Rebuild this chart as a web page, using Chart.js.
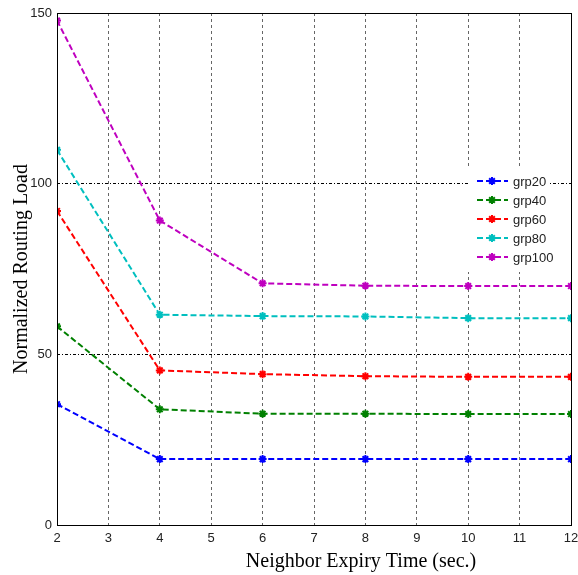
<!DOCTYPE html>
<html>
<head>
<meta charset="utf-8">
<script src="https://cdn.jsdelivr.net/npm/chart.js@4.4.0/dist/chart.umd.min.js"></script>
<style>
  html, body { margin: 0; padding: 0; background: #fff; }
  #wrap { width: 578px; height: 575px; }
</style>
</head>
<body>
<div id="wrap"><canvas id="routingChart" width="578" height="575"></canvas></div>
<script>
// expiry times on x, routing load per group
const expiryTimes = [2, 4, 6, 8, 10, 12];
const grp20 = [35.4, 19.3, 19.3, 19.3, 19.3, 19.3];
const grp40 = [58.2, 33.9, 32.6, 32.6, 32.5, 32.5];
const grp60 = [92.0, 45.3, 44.2, 43.6, 43.4, 43.4];
const grp80 = [109.9, 61.6, 61.2, 61.1, 60.6, 60.6];
const grp100 = [147.8, 89.2, 70.8, 70.1, 70.0, 70.0];
const groupNames = ['grp20', 'grp40', 'grp60', 'grp80', 'grp100'];
const groupColors = ['#0000ff', '#008000', '#ff0000', '#00bfbf', '#bf00bf'];
const yTicks = [0, 50, 100, 150];

const tickFont = "'Liberation Sans Narrow', 'Liberation Sans', Arial, sans-serif";

function toPoints(values) {
    return values.map((v, i) => ({ x: expiryTimes[i], y: v }));
}

const seriesList = [grp20, grp40, grp60, grp80, grp100];
const datasets = seriesList.map((s, i) => ({
    label: groupNames[i],
    data: toPoints(s),
    borderColor: groupColors[i],
    backgroundColor: groupColors[i],
    borderWidth: 2,
    borderDash: [6, 3],
    pointStyle: 'star',
    pointRadius: 4,
    pointBorderWidth: 2,
    tension: 0
}));

// box, axis titles and legend drawn like the matlab figure
const figurePlugin = {
    id: 'figurePlugin',
    afterDraw(chart) {
        const ctx = chart.ctx;
        const a = chart.chartArea;
        ctx.save();
        // frame
        ctx.strokeStyle = '#000';
        ctx.lineWidth = 1;
        ctx.setLineDash([]);
        ctx.strokeRect(a.left + 0.5, a.top + 0.5, a.right - a.left, a.bottom - a.top);

        // axis titles
        ctx.fillStyle = '#000';
        ctx.font = "20px 'Liberation Serif', 'Times New Roman', serif";
        ctx.textAlign = 'center';
        ctx.textBaseline = 'middle';
        ctx.fillText('Neighbor Expiry Time (sec.)', 361, 562);
        ctx.translate(22, (a.top + a.bottom) / 2);
        ctx.rotate(-Math.PI / 2);
        ctx.fillText('Normalized Routing Load', 0, 0);
        ctx.restore();

        // legend
        ctx.save();
        const lx = a.right - 103, ly = a.top + 155;
        ctx.fillStyle = '#fff';
        ctx.fillRect(lx, ly, 80, 104);
        ctx.font = "13px 'Liberation Sans', Arial, sans-serif";
        ctx.textAlign = 'left';
        ctx.textBaseline = 'middle';
        chart.data.datasets.forEach((ds, i) => {
            const y = ly + 13 + i * 19;
            ctx.strokeStyle = ds.borderColor;
            ctx.lineWidth = 2;
            ctx.setLineDash([6, 3]);
            ctx.beginPath();
            ctx.moveTo(lx + 9, y);
            ctx.lineTo(lx + 40, y);
            ctx.stroke();
            ctx.setLineDash([]);
            ctx.fillStyle = ds.borderColor;
            Chart.helpers.drawPoint(ctx, { pointStyle: 'star', radius: 4, borderWidth: 2 }, lx + 24, y);
            ctx.fillStyle = '#222';
            ctx.fillText(ds.label, lx + 45, y + 1);
        });
        ctx.restore();
    }
};

const chart = new Chart(document.getElementById('routingChart'), {
    type: 'line',
    data: { datasets: datasets },
    options: {
        responsive: false,
        animation: false,
        layout: { padding: { top: 13, right: 7, left: 0, bottom: 0 } },
        plugins: { legend: { display: false }, tooltip: { enabled: false } },
        scales: {
            x: {
                type: 'linear',
                min: 2,
                max: 12,
                ticks: {
                    stepSize: 1,
                    padding: 6,
                    color: '#222',
                    font: { family: tickFont, size: 13 }
                },
                grid: { color: '#666', lineWidth: 1, drawTicks: false },
                border: { display: false, dash: [3, 3] },
                afterFit: s => { s.height = 50; s.paddingRight = 0; s.paddingLeft = 0; }
            },
            y: {
                min: 0,
                max: 150,
                afterBuildTicks: s => { s.ticks = yTicks.map(v => ({ value: v })); },
                ticks: {
                    padding: 5,
                    color: '#222',
                    font: { family: tickFont, size: 13 }
                },
                grid: { color: '#000', lineWidth: 1, drawTicks: false },
                border: { display: false, dash: [3, 2, 1, 2] },
                afterFit: s => { s.width = 57; s.paddingTop = 0; s.paddingBottom = 0; }
            }
        }
    },
    plugins: [figurePlugin]
});
</script>
</body>
</html>
